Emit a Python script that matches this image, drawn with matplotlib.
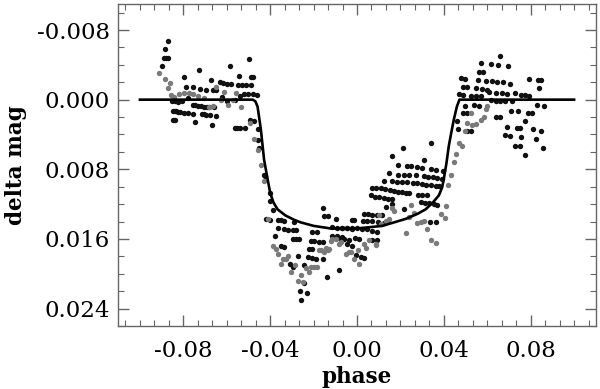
import numpy as np
import matplotlib
matplotlib.use("Agg")
import matplotlib.pyplot as plt
from matplotlib.ticker import AutoMinorLocator, FormatStrFormatter

# black points (phase, delta mag)
black_pts = [
    # out of transit, before ingress
    (-0.0869, -0.0067), (-0.0886, -0.0058), (-0.0890, -0.0048), (-0.0881, -0.0048), (-0.0872, -0.0048),
    (-0.0898, -0.0039), (-0.0795, -0.0026), (-0.0726, -0.0034), (-0.0584, -0.0039), (-0.0498, -0.0047),
    (-0.0543, -0.0027), (-0.0674, -0.0022), (-0.0631, -0.0020), (-0.0616, -0.0019), (-0.0598, -0.0018),
    (-0.0579, -0.0018), (-0.0550, -0.0017), (-0.0532, -0.0017), (-0.0513, -0.0017), (-0.0490, -0.0017),
    (-0.0481, -0.0026), (-0.0486, -0.0026), (-0.0788, -0.0014), (-0.0757, -0.0014), (-0.0722, -0.0012),
    (-0.0696, -0.0011), (-0.0665, -0.0011), (-0.0650, -0.0011), (-0.0520, -0.0007), (-0.0501, -0.0007),
    (-0.0481, -0.0006), (-0.0461, -0.0005), (-0.0851, 0.0002), (-0.0838, 0.0002), (-0.0826, 0.0003),
    (-0.0805, 0.0002), (-0.0780, -0.0002), (-0.0620, -0.0003), (-0.0600, 0.0001), (-0.0560, 0.0000),
    (-0.0540, -0.0004), (-0.0757, 0.0006), (-0.0745, 0.0006), (-0.0731, 0.0007), (-0.0718, 0.0007),
    (-0.0705, 0.0008), (-0.0692, 0.0008), (-0.0681, 0.0008), (-0.0657, 0.0008), (-0.0849, 0.0013),
    (-0.0840, 0.0013), (-0.0834, 0.0013), (-0.0824, 0.0014), (-0.0814, 0.0014), (-0.0795, 0.0015),
    (-0.0777, 0.0015), (-0.0757, 0.0016), (-0.0716, 0.0017), (-0.0706, 0.0017), (-0.0696, 0.0018),
    (-0.0676, 0.0018), (-0.0650, 0.0019), (-0.0849, 0.0023), (-0.0838, 0.0023), (-0.0746, 0.0026),
    (-0.0670, 0.0029), (-0.0562, 0.0032), (-0.0551, 0.0032), (-0.0540, 0.0032), (-0.0517, 0.0032),
    # ingress
    (-0.0492, 0.0023), (-0.0474, 0.0025), (-0.0458, 0.0034), (-0.0458, 0.0046), (-0.0451, 0.0055),
    (-0.0428, 0.0086), (-0.0423, 0.0088), (-0.0400, 0.0107), (-0.0399, 0.0117), (-0.0389, 0.0127),
    (-0.0420, 0.0137), (-0.0402, 0.0138),
    # in transit
    (-0.0366, 0.0138), (-0.0351, 0.0138), (-0.0336, 0.0139), (-0.0290, 0.0140), (-0.0363, 0.0148),
    (-0.0336, 0.0149), (-0.0317, 0.0150), (-0.0297, 0.0150), (-0.0282, 0.0150), (-0.0205, 0.0152),
    (-0.0182, 0.0152), (-0.0156, 0.0124), (-0.0152, 0.0134), (-0.0133, 0.0134), (-0.0098, 0.0137),
    (-0.0115, 0.0146), (-0.0092, 0.0147), (-0.0069, 0.0147), (-0.0046, 0.0148), (-0.0023, 0.0149),
    (-0.0023, 0.0138), (-0.0378, 0.0157), (-0.0297, 0.0160), (-0.0282, 0.0160), (-0.0267, 0.0160),
    (-0.0213, 0.0162), (-0.0198, 0.0162), (-0.0175, 0.0163), (-0.0155, 0.0163), (-0.0115, 0.0157),
    (-0.0092, 0.0157), (-0.0069, 0.0158), (-0.0046, 0.0166), (-0.0023, 0.0168), (-0.0351, 0.0168),
    (-0.0336, 0.0169), (-0.0220, 0.0171), (-0.0207, 0.0172), (-0.0228, 0.0181), (-0.0205, 0.0182),
    (-0.0190, 0.0183), (-0.0274, 0.0180), (-0.0155, 0.0183), (-0.0310, 0.0189), (-0.0297, 0.0192),
    (-0.0244, 0.0190), (-0.0137, 0.0204), (-0.0083, 0.0196), (-0.0244, 0.0211), (-0.0262, 0.0220),
    (-0.0231, 0.0222), (-0.0259, 0.0230),
    (-0.0067, 0.0147), (-0.0044, 0.0148), (-0.0021, 0.0148), (0.0001, 0.0148), (0.0024, 0.0149),
    (0.0047, 0.0149), (0.0070, 0.0151), (0.0093, 0.0152), (-0.0014, 0.0138), (0.0028, 0.0139),
    (0.0047, 0.0139), (0.0070, 0.0139), (0.0098, 0.0141), (0.0124, 0.0142), (0.0144, 0.0139),
    (0.0032, 0.0131), (0.0052, 0.0131), (0.0068, 0.0132), (0.0093, 0.0132), (0.0117, 0.0133),
    (0.0132, 0.0123), (0.0159, 0.0120), (-0.0083, 0.0159), (-0.0060, 0.0160), (-0.0037, 0.0161),
    (-0.0009, 0.0159), (0.0009, 0.0160), (-0.0003, 0.0179), (0.0017, 0.0181), (0.0032, 0.0182),
    (0.0070, 0.0161), (0.0093, 0.0161), (0.0070, 0.0101), (0.0089, 0.0102), (0.0109, 0.0102),
    (0.0129, 0.0103), (0.0150, 0.0104), (0.0063, 0.0110), (0.0083, 0.0112), (0.0101, 0.0112),
    (0.0124, 0.0113), (0.0144, 0.0114), (0.0162, 0.0114), (0.0170, 0.0105), (0.0190, 0.0106),
    (0.0209, 0.0106), (0.0224, 0.0107), (0.0239, 0.0107), (0.0124, 0.0093), (0.0162, 0.0094),
    (0.0185, 0.0095), (0.0208, 0.0095), (0.0231, 0.0095), (0.0257, 0.0096), (0.0277, 0.0096),
    (0.0300, 0.0097), (0.0319, 0.0098), (0.0339, 0.0098), (0.0362, 0.0099), (0.0377, 0.0099),
    (0.0190, 0.0086), (0.0216, 0.0086), (0.0239, 0.0087), (0.0270, 0.0087), (0.0308, 0.0088),
    (0.0328, 0.0089), (0.0349, 0.0089), (0.0369, 0.0090), (0.0392, 0.0091), (0.0147, 0.0084),
    (0.0231, 0.0076), (0.0251, 0.0076), (0.0277, 0.0077), (0.0300, 0.0078), (0.0190, 0.0075),
    (0.0339, 0.0080), (0.0362, 0.0081), (0.0159, 0.0065), (0.0308, 0.0069), (0.0213, 0.0056),
    (0.0343, 0.0050), (0.0395, 0.0082), (0.0293, 0.0118), (0.0313, 0.0119), (0.0331, 0.0119),
    (0.0354, 0.0120), (0.0369, 0.0121), (0.0282, 0.0109), (0.0300, 0.0110), (0.0323, 0.0110),
    (0.0216, 0.0126), (0.0334, 0.0140), (0.0365, 0.0140),
    # egress and after
    (0.0461, 0.0025), (0.0466, 0.0034), (0.0487, 0.0015), (0.0507, 0.0015), (0.0469, -0.0006),
    (0.0487, -0.0005), (0.0497, 0.0007), (0.0477, -0.0025), (0.0497, -0.0024), (0.0487, -0.0015),
    (0.0507, -0.0015), (0.0538, 0.0006), (0.0561, 0.0007), (0.0523, -0.0004), (0.0546, -0.0004),
    (0.0569, -0.0004), (0.0546, -0.0013), (0.0577, -0.0012), (0.0600, -0.0011), (0.0558, -0.0023),
    (0.0592, -0.0021), (0.0561, -0.0032), (0.0579, -0.0032), (0.0573, -0.0042), (0.0615, -0.0041),
    (0.0650, -0.0040), (0.0696, -0.0039), (0.0660, -0.0050), (0.0622, -0.0021), (0.0645, -0.0020),
    (0.0671, -0.0020), (0.0707, -0.0018), (0.0607, -0.0009), (0.0638, -0.0008), (0.0668, -0.0008),
    (0.0691, -0.0007), (0.0615, 0.0000), (0.0638, 0.0001), (0.0661, 0.0001), (0.0684, 0.0002),
    (0.0714, 0.0001), (0.0757, -0.0005), (0.0775, -0.0005), (0.0794, -0.0004), (0.0730, -0.0008),
    (0.0794, -0.0024), (0.0834, -0.0023), (0.0849, -0.0023), (0.0837, -0.0013), (0.0829, 0.0006),
    (0.0860, 0.0007), (0.0711, 0.0013), (0.0742, 0.0013), (0.0788, 0.0015), (0.0806, 0.0015),
    (0.0638, 0.0020), (0.0661, 0.0020), (0.0775, 0.0024), (0.0691, 0.0031), (0.0737, 0.0032),
    (0.0752, 0.0033), (0.0809, 0.0034), (0.0849, 0.0036), (0.0684, 0.0041), (0.0707, 0.0042),
    (0.0757, 0.0043), (0.0824, 0.0045), (0.0730, 0.0053), (0.0752, 0.0053), (0.0855, 0.0056),
    (0.0772, 0.0064), (0.0523, 0.0036), (0.0507, 0.0036),
]

# gray points (phase, delta mag)
gray_pts = [
    (-0.0910, -0.0031), (-0.0884, -0.0024), (-0.0860, -0.0019), (-0.0872, -0.0013), (-0.0857, -0.0005),
    (-0.0841, -0.0003), (-0.0818, -0.0006), (-0.0795, -0.0008), (-0.0772, -0.0008), (-0.0757, -0.0007),
    (-0.0734, -0.0004), (-0.0703, -0.0002), (-0.0680, 0.0008), (-0.0665, 0.0007), (-0.0650, -0.0015),
    (-0.0611, -0.0009), (-0.0596, 0.0006), (-0.0558, -0.0008), (-0.0535, 0.0008), (-0.0627, 0.0000),
    (-0.0573, 0.0000), (-0.0492, 0.0027), (-0.0474, 0.0045), (-0.0455, 0.0058), (-0.0443, 0.0075),
    (-0.0428, 0.0093), (-0.0412, 0.0137), (-0.0389, 0.0168), (-0.0374, 0.0171), (-0.0363, 0.0177),
    (-0.0351, 0.0189), (-0.0343, 0.0183), (-0.0328, 0.0183), (-0.0317, 0.0180), (-0.0305, 0.0198),
    (-0.0286, 0.0190), (-0.0274, 0.0208), (-0.0259, 0.0202), (-0.0251, 0.0210), (-0.0236, 0.0193),
    (-0.0221, 0.0198), (-0.0210, 0.0192), (-0.0198, 0.0192), (-0.0185, 0.0192), (-0.0175, 0.0173),
    (-0.0167, 0.0173), (-0.0152, 0.0175), (-0.0144, 0.0170), (-0.0133, 0.0173), (-0.0129, 0.0171),
    (-0.0121, 0.0162), (-0.0113, 0.0160), (-0.0098, 0.0160), (-0.0083, 0.0166), (-0.0075, 0.0163),
    (-0.0052, 0.0177), (-0.0037, 0.0175), (-0.0029, 0.0175), (-0.0014, 0.0183), (0.0006, 0.0173),
    (0.0009, 0.0189), (0.0032, 0.0166), (0.0040, 0.0170), (0.0055, 0.0161), (0.0086, 0.0166),
    (0.0089, 0.0167), (0.0101, 0.0133), (0.0109, 0.0143), (0.0132, 0.0139), (0.0147, 0.0137),
    (0.0162, 0.0124), (0.0170, 0.0128), (0.0224, 0.0153), (0.0239, 0.0135), (0.0247, 0.0121),
    (0.0262, 0.0130), (0.0277, 0.0142), (0.0297, 0.0140), (0.0308, 0.0139), (0.0323, 0.0149),
    (0.0343, 0.0161), (0.0365, 0.0165), (0.0385, 0.0131), (0.0405, 0.0136), (0.0408, 0.0122),
    (0.0420, 0.0098), (0.0431, 0.0087), (0.0446, 0.0072), (0.0457, 0.0063), (0.0472, 0.0050),
    (0.0484, 0.0053), (0.0497, 0.0036), (0.0507, 0.0027), (0.0530, 0.0029), (0.0549, 0.0028),
    (0.0569, 0.0023), (0.0584, 0.0020), (0.0523, 0.0015), (0.0600, 0.0007), (0.0592, 0.0011),
]

# transit model curve
model_phase = [-0.100, -0.048, -0.0468, -0.0458, -0.0443, -0.0428, -0.0412, -0.0400, -0.0385,
               -0.0366, -0.0330, -0.0290, -0.0259, -0.0200, -0.0121, 0.0, 0.0117, 0.0224,
               0.0280, 0.0316, 0.0350, 0.0377, 0.0392, 0.0400, 0.0412, 0.0423, 0.0435,
               0.0446, 0.0460, 0.0472, 0.100]
model_mag = [0.0, 0.0, 0.0002, 0.0008, 0.0034, 0.0069, 0.0091, 0.0107, 0.0118,
             0.0126, 0.0133, 0.0138, 0.0141, 0.0145, 0.0148, 0.0148, 0.0145, 0.0137,
             0.0131, 0.0126, 0.0118, 0.0110, 0.0101, 0.0091, 0.0073, 0.0053, 0.0037,
             0.0023, 0.0008, 0.0, 0.0]

x_ticks = [-0.08, -0.04, 0.00, 0.04, 0.08]
y_ticks = [-0.008, 0.000, 0.008, 0.016, 0.024]

plt.rcParams['font.family'] = ['DejaVu Serif']
plt.rcParams['axes.unicode_minus'] = False

bx, by = np.array(black_pts).T
gx, gy = np.array(gray_pts).T

fig = plt.figure(figsize=(6.0, 3.89), dpi=100)
ax = fig.add_axes([0.197, 0.162, 0.796, 0.828])

ax.scatter(bx, by, s=15, color='#111111', linewidths=0, zorder=2)
ax.scatter(gx, gy, s=15, color='#7a7a7a', linewidths=0, zorder=3)
ax.plot(model_phase, model_mag, color='black', linewidth=1.9, zorder=4)

ax.set_xlim(-0.11, 0.11)
ax.set_ylim(0.026, -0.011)

ax.set_xticks(x_ticks)
ax.set_yticks(y_ticks)
ax.xaxis.set_major_formatter(FormatStrFormatter('%.2f'))
ax.yaxis.set_major_formatter(FormatStrFormatter('%.3f'))
ax.xaxis.set_minor_locator(AutoMinorLocator(6))
ax.yaxis.set_minor_locator(AutoMinorLocator(4))

for s in ax.spines.values():
    s.set_color('#666666')
    s.set_linewidth(1.0)

ax.tick_params(which='both', direction='in', top=True, right=True, colors='#666666',
               labelcolor='black', labelsize=16.5)
ax.tick_params(which='major', length=8, width=1.0)
ax.tick_params(which='minor', length=4, width=0.8)
ax.tick_params(axis='x', pad=10)
ax.tick_params(axis='y', pad=6)

ax.set_xlabel('phase', fontsize=15.5, fontweight='bold', labelpad=3)
ax.set_ylabel('delta mag', fontsize=15.5, fontweight='bold', labelpad=7)

fig.savefig('out.png', dpi=100)
